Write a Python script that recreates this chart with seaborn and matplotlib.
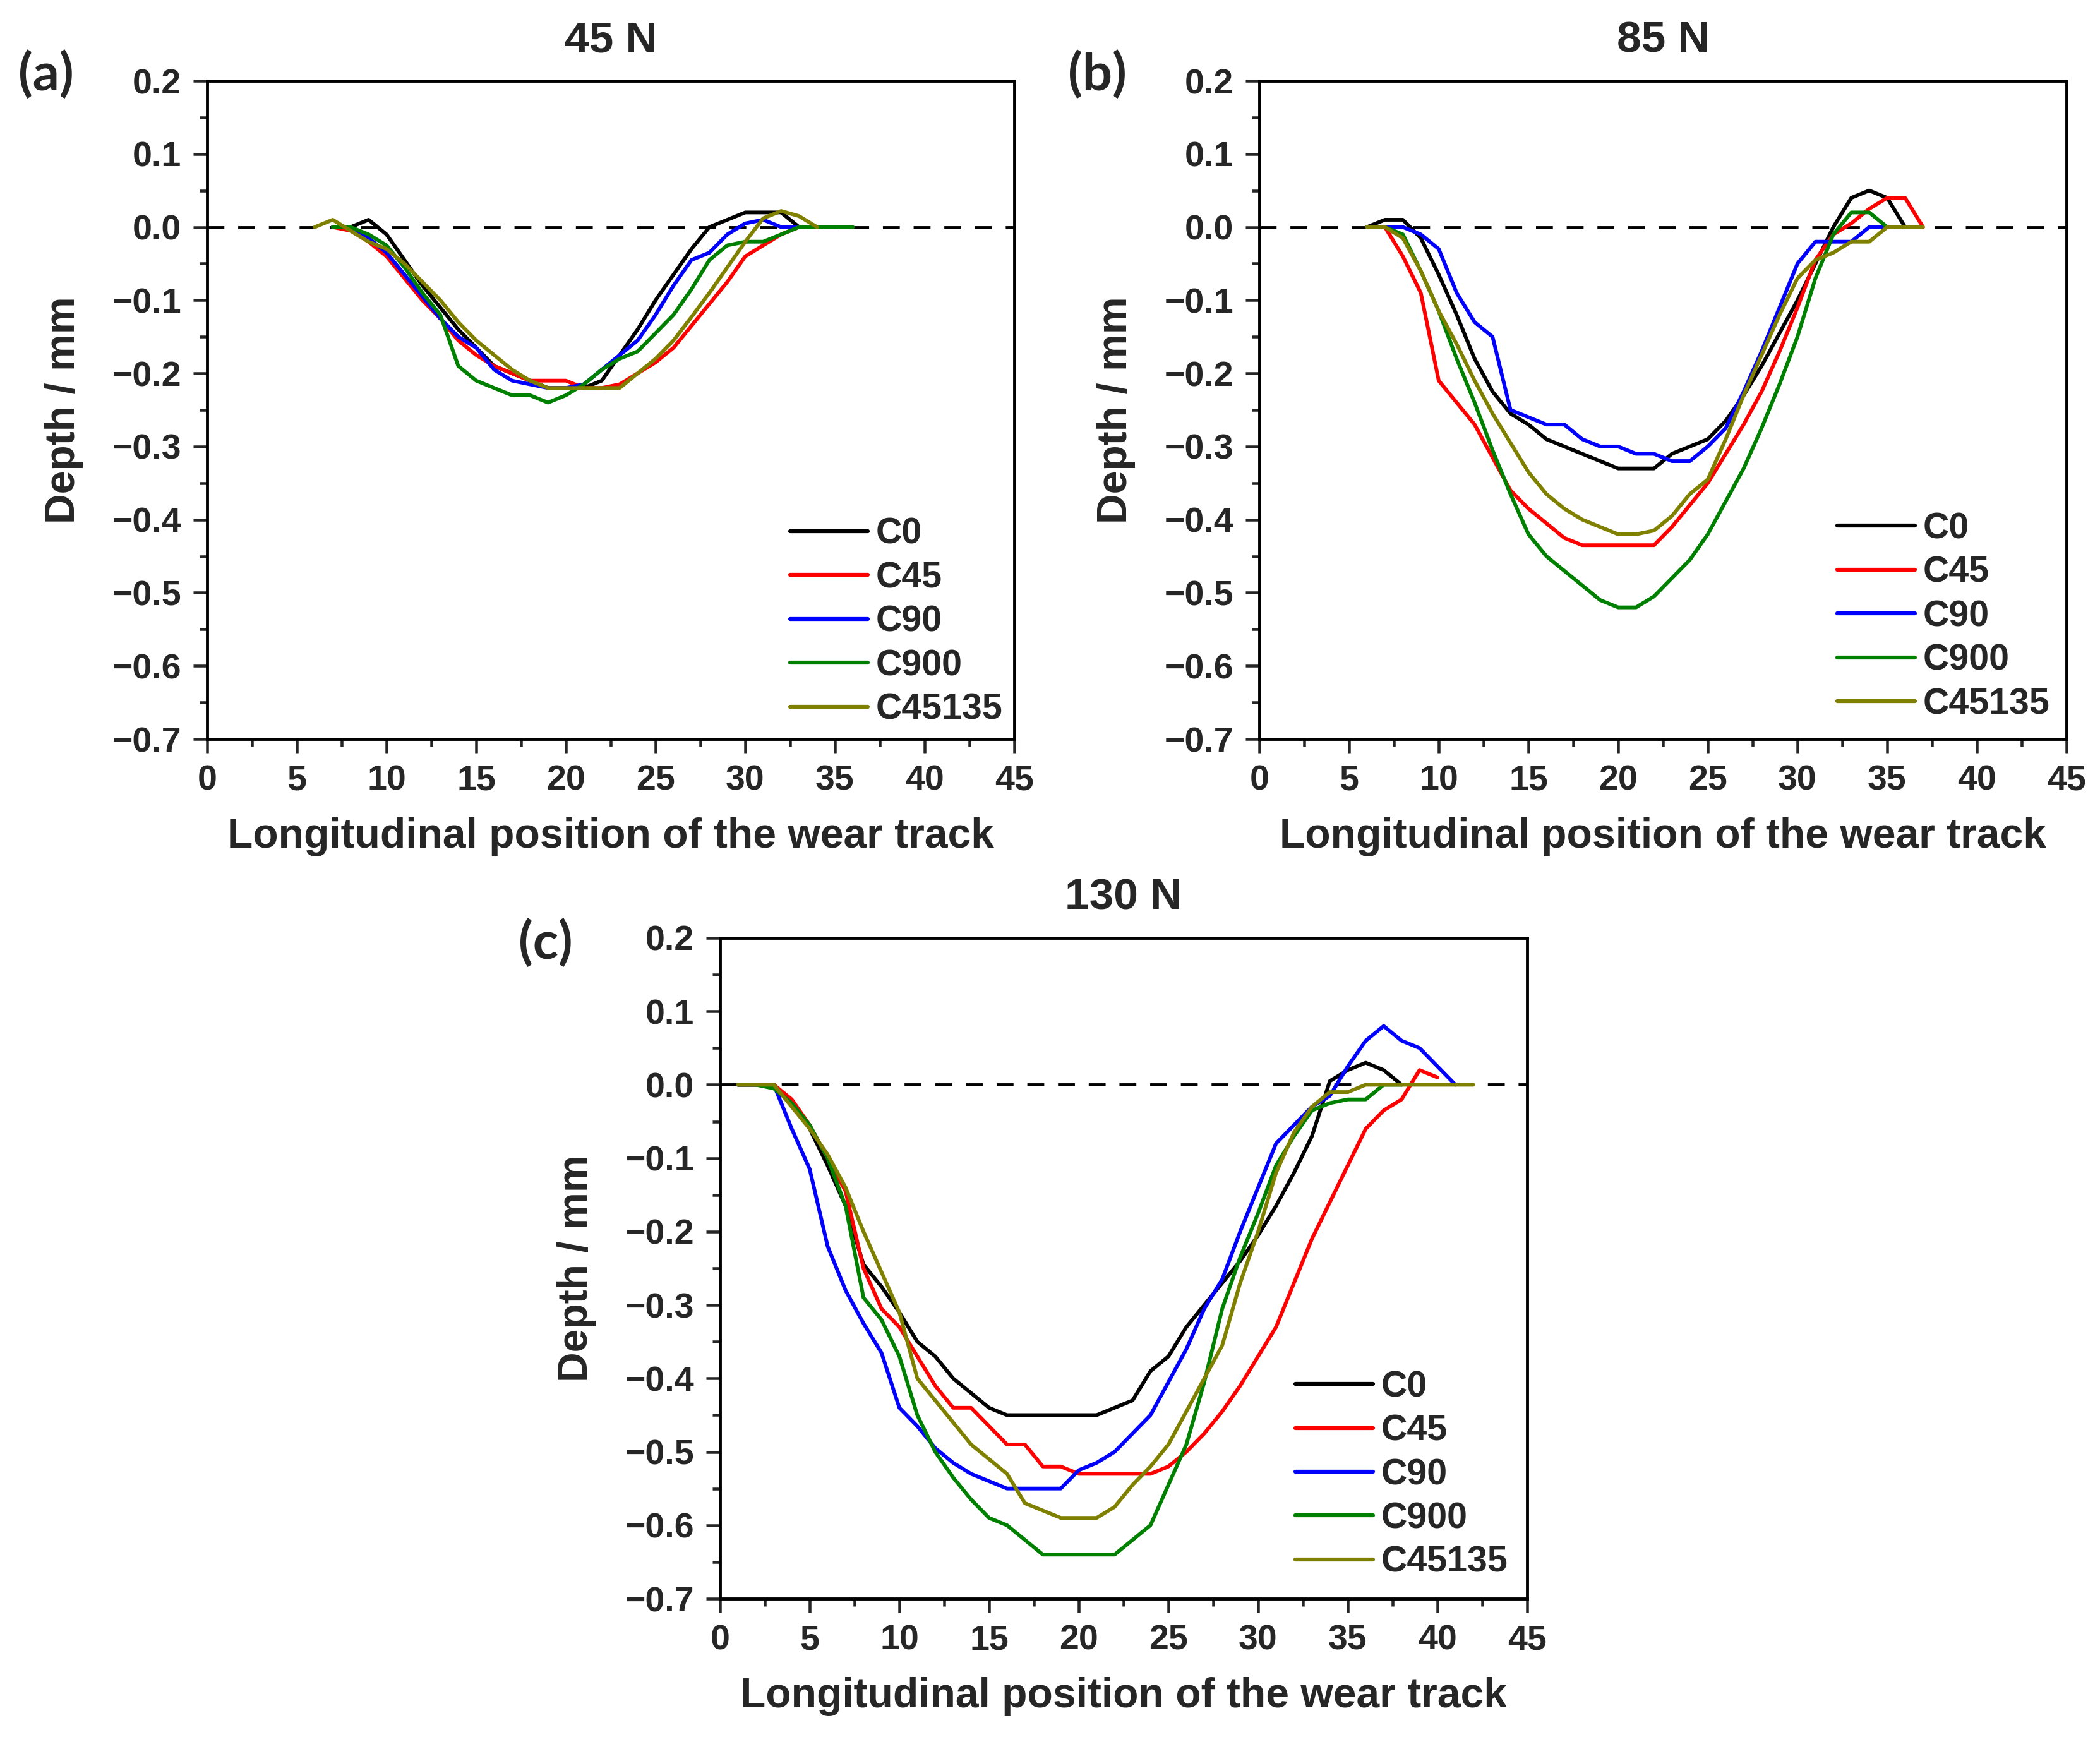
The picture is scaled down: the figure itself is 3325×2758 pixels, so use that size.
import numpy as np
import pandas as pd
import matplotlib
matplotlib.use("Agg")
import matplotlib.pyplot as plt
from matplotlib.ticker import MultipleLocator, FuncFormatter
import seaborn as sns

series_names = ["C0", "C45", "C90", "C900", "C45135"]
series_colors = ["#000000", "#FF0000", "#0000FF", "#008000", "#808000"]
panel_titles = ["45 N", "85 N", "130 N"]
panel_tags = ["(a)", "(b)", "(c)"]

# ---- panel (a): 45 N  (first x position, depth values at unit steps)
a_start = [7, 7, 7, 7, 6]
a_C0 = [0, 0, 0.01, -0.01, -0.045, -0.08, -0.11, -0.14, -0.165, -0.19, -0.2, -0.21, -0.22,
        -0.22, -0.22, -0.21, -0.175, -0.14, -0.1, -0.065, -0.03, 0.0, 0.01, 0.02, 0.02, 0.02, 0.0]
a_C45 = [0, -0.005, -0.02, -0.04, -0.07, -0.1, -0.125, -0.155, -0.175, -0.19, -0.2, -0.21, -0.21,
         -0.21, -0.22, -0.22, -0.215, -0.2, -0.185, -0.165, -0.135, -0.105, -0.075, -0.04, -0.025,
         -0.01, 0.0, 0.0]
a_C90 = [0, 0, -0.015, -0.035, -0.065, -0.095, -0.125, -0.15, -0.165, -0.195, -0.21, -0.215, -0.22,
         -0.22, -0.215, -0.195, -0.175, -0.155, -0.12, -0.08, -0.045, -0.035, -0.01, 0.005, 0.01,
         0.0, 0.0]
a_C900 = [0, 0, -0.01, -0.025, -0.055, -0.09, -0.12, -0.19, -0.21, -0.22, -0.23, -0.23, -0.24, -0.23,
          -0.215, -0.195, -0.18, -0.17, -0.145, -0.12, -0.085, -0.045, -0.025, -0.02, -0.02, -0.01,
          0.0, 0.0, 0.0, 0.0]
a_C45135 = [0, 0.01, -0.005, -0.02, -0.03, -0.05, -0.075, -0.1, -0.13, -0.155, -0.175, -0.195, -0.21,
            -0.22, -0.22, -0.22, -0.22, -0.22, -0.2, -0.18, -0.155, -0.123, -0.09, -0.055, -0.02,
            0.012, 0.022, 0.015, 0.0]

# ---- panel (b): 85 N
b_start = [6, 7, 7, 7, 6]
b_C0 = [0, 0.01, 0.01, -0.015, -0.065, -0.12, -0.18, -0.225, -0.255, -0.27, -0.29, -0.3, -0.31,
        -0.32, -0.33, -0.33, -0.33, -0.31, -0.3, -0.29, -0.265, -0.23, -0.19, -0.145, -0.1, -0.05,
        0.0, 0.04, 0.05, 0.04, 0.0]
b_C45 = [0, -0.04, -0.09, -0.21, -0.24, -0.27, -0.315, -0.36, -0.385, -0.405, -0.425, -0.435, -0.435,
         -0.435, -0.435, -0.435, -0.41, -0.38, -0.35, -0.31, -0.27, -0.225, -0.17, -0.11, -0.045,
         -0.01, 0.005, 0.025, 0.04, 0.04, 0.0]
b_C90 = [0, 0, -0.01, -0.03, -0.09, -0.13, -0.15, -0.25, -0.26, -0.27, -0.27, -0.29, -0.3, -0.3,
         -0.31, -0.31, -0.32, -0.32, -0.3, -0.275, -0.225, -0.17, -0.11, -0.05, -0.02, -0.02, -0.02,
         0.0, 0.0]
b_C900 = [0, -0.01, -0.06, -0.115, -0.18, -0.24, -0.305, -0.365, -0.42, -0.45, -0.47, -0.49, -0.51,
          -0.52, -0.52, -0.505, -0.48, -0.455, -0.42, -0.375, -0.33, -0.275, -0.215, -0.15, -0.07,
          -0.01, 0.02, 0.02, 0.0]
b_C45135 = [0, 0, -0.015, -0.06, -0.115, -0.16, -0.21, -0.255, -0.295, -0.335, -0.365, -0.385, -0.4,
            -0.41, -0.42, -0.42, -0.415, -0.395, -0.365, -0.345, -0.29, -0.23, -0.175, -0.12, -0.07,
            -0.045, -0.035, -0.02, -0.02, 0.0, 0.0, 0.0]

# ---- panel (c): 130 N
c_start = [1, 1, 1, 1, 1]
c_C0 = [0, 0, 0, -0.025, -0.06, -0.11, -0.165, -0.245, -0.275, -0.31, -0.35, -0.37, -0.4, -0.42,
        -0.44, -0.45, -0.45, -0.45, -0.45, -0.45, -0.45, -0.44, -0.43, -0.39, -0.37, -0.33, -0.3,
        -0.27, -0.24, -0.205, -0.165, -0.12, -0.07, 0.005, 0.02, 0.03, 0.02, 0.0]
c_C45 = [0, 0, 0, -0.02, -0.055, -0.1, -0.145, -0.25, -0.305, -0.33, -0.37, -0.41, -0.44, -0.44,
         -0.465, -0.49, -0.49, -0.52, -0.52, -0.53, -0.53, -0.53, -0.53, -0.53, -0.52, -0.5, -0.475,
         -0.445, -0.41, -0.37, -0.33, -0.27, -0.21, -0.16, -0.11, -0.06, -0.035, -0.02, 0.02, 0.01]
c_C90 = [0, 0, 0, -0.06, -0.115, -0.22, -0.28, -0.325, -0.365, -0.44, -0.465, -0.495, -0.515, -0.53,
         -0.54, -0.55, -0.55, -0.55, -0.55, -0.525, -0.515, -0.5, -0.475, -0.45, -0.405, -0.36,
         -0.305, -0.265, -0.2, -0.14, -0.08, -0.055, -0.03, -0.015, 0.025, 0.06, 0.08, 0.06, 0.05,
         0.025, 0.0]
c_C900 = [0, 0, -0.005, -0.025, -0.055, -0.1, -0.165, -0.29, -0.32, -0.37, -0.45, -0.5, -0.535,
          -0.565, -0.59, -0.6, -0.62, -0.64, -0.64, -0.64, -0.64, -0.64, -0.62, -0.6, -0.545, -0.49,
          -0.405, -0.305, -0.235, -0.175, -0.11, -0.07, -0.035, -0.025, -0.02, -0.02, 0.0, 0.0]
c_C45135 = [0, 0, 0, -0.03, -0.06, -0.095, -0.14, -0.2, -0.255, -0.31, -0.4, -0.43, -0.46, -0.49,
            -0.51, -0.53, -0.57, -0.58, -0.59, -0.59, -0.59, -0.575, -0.545, -0.52, -0.49, -0.445,
            -0.4, -0.355, -0.27, -0.2, -0.12, -0.065, -0.03, -0.01, -0.01, 0.0, 0.0, 0.0, 0.0, 0.0,
            0.0, 0.0]

panels = [
    (a_start, [a_C0, a_C45, a_C90, a_C900, a_C45135]),
    (b_start, [b_C0, b_C45, b_C90, b_C900, b_C45135]),
    (c_start, [c_C0, c_C45, c_C90, c_C900, c_C45135]),
]

x_ticks = [0, 5, 10, 15, 20, 25, 30, 35, 40, 45]
y_ticks = [0.2, 0.1, 0.0, -0.1, -0.2, -0.3, -0.4, -0.5, -0.6, -0.7]

sns.set_style("ticks")
plt.rcParams["font.family"] = ["Liberation Sans", "DejaVu Sans"]
plt.rcParams["font.weight"] = "bold"
plt.rcParams["axes.labelweight"] = "bold"

W, H = 3325, 2758
fig = plt.figure(figsize=(W / 250, H / 250), dpi=250)

# axes boxes in pixels: left, top, right, bottom
boxes = [(328, 128, 1606, 1170), (1994, 128, 3272, 1170), (1140, 1485, 2418, 2531)]
tag_pos = [(73, 118), (1737, 118), (864, 1493)]
legend_anchor = [(0.722, 0.337), (0.716, 0.345), (0.713, 0.346)]

for i, (starts, ys) in enumerate(panels):
    l, t, r, b = boxes[i]
    ax = fig.add_axes([l / W, 1 - b / H, (r - l) / W, (b - t) / H])
    frames = []
    for name, st, yv in zip(series_names, starts, ys):
        frames.append(pd.DataFrame({"x": np.arange(st, st + len(yv)), "depth": yv, "series": name}))
    df = pd.concat(frames, ignore_index=True)
    ax.axhline(0, color="black", lw=1.4, ls=(0, (5.5, 4.5)), zorder=1)
    sns.lineplot(data=df, x="x", y="depth", hue="series", hue_order=series_names,
                 palette=series_colors, estimator=None, sort=False, lw=1.7, ax=ax, zorder=3)
    ax.set_xlim(0, 45)
    ax.set_ylim(-0.7, 0.2)
    ax.set_xticks(x_ticks)
    ax.set_yticks(y_ticks)
    ax.xaxis.set_minor_locator(MultipleLocator(2.5))
    ax.yaxis.set_minor_locator(MultipleLocator(0.05))
    ax.yaxis.set_major_formatter(FuncFormatter(lambda v, p: f"{v:.1f}".replace("-", "\u2212")))
    ax.tick_params(which="major", direction="out", length=6.3, width=1.3, labelsize=16, pad=5.5)
    ax.tick_params(which="minor", direction="out", length=3.5, width=1.3)
    for lab in ax.get_xticklabels() + ax.get_yticklabels():
        lab.set_fontweight("bold")
    for sp in ax.spines.values():
        sp.set_linewidth(1.4)
        sp.set_color("black")
    ax.set_xlabel("Longitudinal position of the wear track", fontsize=19, fontweight="bold", labelpad=9)
    ax.set_ylabel("Depth / mm", fontsize=19, fontweight="bold", labelpad=13)
    ax.set_title(panel_titles[i], fontsize=20, fontweight="bold", pad=13)
    leg = ax.legend(loc="upper left", bbox_to_anchor=legend_anchor[i], frameon=False,
                    fontsize=16.5, handlelength=2.15, handletextpad=0.22, labelspacing=0.27,
                    borderpad=0, borderaxespad=0)
    for line in leg.get_lines():
        line.set_linewidth(1.8)
    for txt in leg.get_texts():
        txt.set_fontweight("bold")
    tx, ty = tag_pos[i]
    fig.text(tx / W, 1 - ty / H, panel_tags[i], fontsize=24, fontweight="bold",
             family=["Lato", "DejaVu Sans"], ha="center", va="center")

fig.savefig("out.png", dpi=250, facecolor="white")
